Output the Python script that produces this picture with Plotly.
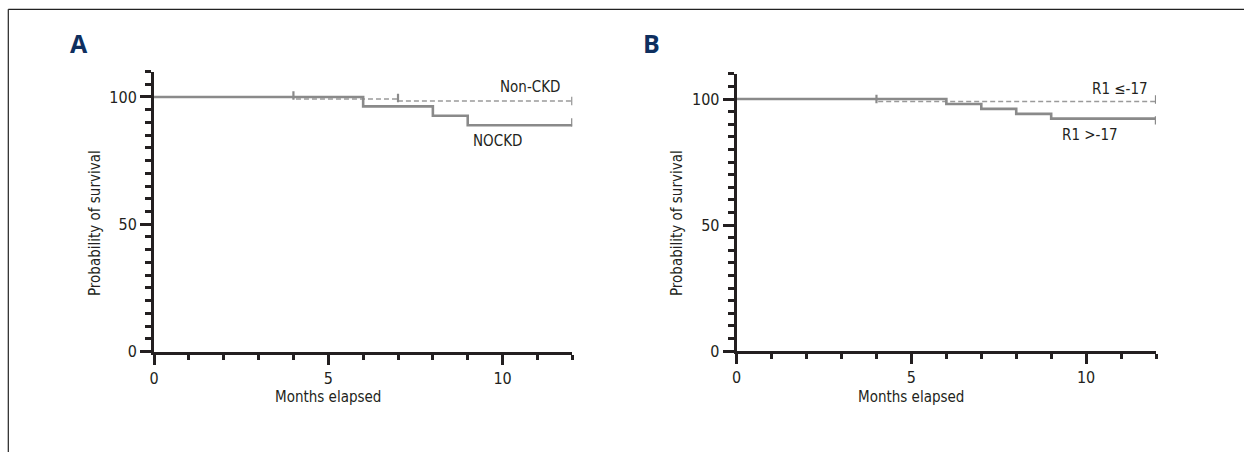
import plotly.graph_objects as go

# ---------------- data ----------------
# Panel A
a_nonckd_t = [0, 4, 7, 12]
a_nonckd_s = [100, 99.2, 98.4, 98.4]
a_nonckd_cens_t = [4, 7, 12]
a_nonckd_cens_s = [100.6, 99.6, 98.4]

a_nockd_t = [0, 6, 8, 9, 12]
a_nockd_s = [100, 96.3, 92.6, 88.9, 88.9]
a_nockd_cens_t = [12]
a_nockd_cens_s = [90.0]

# Panel B
b_low_t = [0, 4, 12]
b_low_s = [100, 99.0, 99.0]
b_low_cens_t = [4, 12]
b_low_cens_s = [100.0, 99.8]

b_high_t = [0, 6, 7, 8, 9, 12]
b_high_s = [100, 98.0, 96.1, 94.1, 92.2, 92.2]
b_high_cens_t = [12]
b_high_cens_s = [91.5]

x_ticks = [0, 5, 10]
y_ticks = [0, 50, 100]

W, H = 1244, 452
def px(x):
    return x / W
def py(y):
    return 1 - y / H

FONT = "DejaVu Sans Condensed, Liberation Sans Narrow, Arial Narrow, sans-serif"
FS = 15
TXT = "#231f20"
AX = "#231f20"
SOLID = "#8a8a8a"
DASH = "#9a9a9a"

fig = go.Figure()

def add_panel(xa, ya, dash_t, dash_s, dct, dcs, sol_t, sol_s, sct, scs):
    fig.add_trace(go.Scatter(x=dash_t, y=dash_s, mode="lines", line_shape="hv",
                             line=dict(color=DASH, width=1.6, dash="5px,3px"),
                             xaxis=xa, yaxis=ya, showlegend=False, hoverinfo="skip"))
    fig.add_trace(go.Scatter(x=sol_t, y=sol_s, mode="lines", line_shape="hv",
                             line=dict(color=SOLID, width=2.6),
                             xaxis=xa, yaxis=ya, showlegend=False, hoverinfo="skip"))
    fig.add_trace(go.Scatter(x=dct, y=dcs, mode="markers",
                             marker=dict(symbol="line-ns", size=6,
                                         line=dict(color=SOLID, width=2.2)),
                             xaxis=xa, yaxis=ya, showlegend=False, hoverinfo="skip"))
    fig.add_trace(go.Scatter(x=sct, y=scs, mode="markers",
                             marker=dict(symbol="line-ns", size=6,
                                         line=dict(color=SOLID, width=2.4)),
                             xaxis=xa, yaxis=ya, showlegend=False, hoverinfo="skip"))

add_panel("x", "y", a_nonckd_t, a_nonckd_s, a_nonckd_cens_t, a_nonckd_cens_s,
          a_nockd_t, a_nockd_s, a_nockd_cens_t, a_nockd_cens_s)
add_panel("x2", "y2", b_low_t, b_low_s, b_low_cens_t, b_low_cens_s,
          b_high_t, b_high_s, b_high_cens_t, b_high_cens_s)

def xaxis(domain, anchor):
    return dict(domain=domain, anchor=anchor, range=[0, 12], showgrid=False, zeroline=False,
                showline=True, linewidth=3, linecolor=AX, automargin=False,
                tickmode="array", tickvals=x_ticks, ticks="outside", ticklen=10,
                tickwidth=3, tickcolor=AX,
                minor=dict(ticks="outside", dtick=1, tick0=0, ticklen=5, tickwidth=2.5,
                           tickcolor=AX, showgrid=False),
                tickfont=dict(family=FONT, size=FS + 1, color=TXT), fixedrange=True)

def yaxis(domain, anchor):
    return dict(domain=domain, anchor=anchor, range=[0, 110], showgrid=False, zeroline=False,
                showline=True, linewidth=3, linecolor=AX, automargin=False,
                tickmode="array", tickvals=y_ticks, ticks="outside", ticklen=11,
                tickwidth=3, tickcolor=AX,
                minor=dict(ticks="outside", dtick=5, tick0=0, ticklen=6, tickwidth=2.5,
                           tickcolor=AX, showgrid=False),
                tickfont=dict(family=FONT, size=FS + 1, color=TXT), fixedrange=True)

fig.update_layout(
    width=W, height=H, margin=dict(l=0, r=0, t=0, b=0, pad=0),
    paper_bgcolor="white", plot_bgcolor="white",
    xaxis=xaxis([px(154), px(572.3)], "y"),
    yaxis=yaxis([py(351.5), py(71.5)], "x"),
    xaxis2=xaxis([px(736.7), px(1156)], "y2"),
    yaxis2=yaxis([py(351), py(73.8)], "x2"),
)

ann = []
# panel letters
for letter, x in (("A", 79), ("B", 651)):
    ann.append(dict(text=letter, x=px(x), y=py(43), xref="paper", yref="paper",
                    xanchor="center", yanchor="middle", showarrow=False,
                    font=dict(family="Open Sans, Noto Sans, sans-serif", size=25,
                              color="#0e2f5f", weight="bold")))
# axis titles
for xr in ("x", "x2"):
    ann.append(dict(text="Months elapsed", x=5, y=py(397), xref=xr, yref="paper",
                    xanchor="center", yanchor="middle", showarrow=False,
                    font=dict(family=FONT, size=FS, color=TXT)))
for xx in (95, 677):
    ann.append(dict(text="Probability of survival", x=px(xx), y=py(223), xref="paper",
                    yref="paper", xanchor="center", yanchor="middle", textangle=-90,
                    showarrow=False, font=dict(family=FONT, size=FS, color=TXT)))
# curve labels
ann.append(dict(text="Non-CKD", x=11.7, y=104.0, xref="x", yref="y", xanchor="right",
                yanchor="middle", showarrow=False, font=dict(family=FONT, size=FS, color=TXT)))
ann.append(dict(text="NOCKD", x=9.84, y=82.7, xref="x", yref="y", xanchor="center",
                yanchor="middle", showarrow=False, font=dict(family=FONT, size=FS, color=TXT)))
ann.append(dict(text="R1 ≤-17", x=11.83, y=104.0, xref="x2", yref="y2", xanchor="right",
                yanchor="middle", showarrow=False, font=dict(family=FONT, size=FS, color=TXT)))
ann.append(dict(text="R1 >-17", x=10.11, y=85.7, xref="x2", yref="y2", xanchor="center",
                yanchor="middle", showarrow=False, font=dict(family=FONT, size=FS, color=TXT)))
fig.update_layout(annotations=ann)

# outer frame (top and left edge)
fig.add_shape(type="line", xref="paper", yref="paper", x0=px(8.3), x1=1, y0=py(9.3), y1=py(9.3),
              line=dict(color="#222222", width=1.2))
fig.add_shape(type="line", xref="paper", yref="paper", x0=px(8.3), x1=px(8.3), y0=py(9.3), y1=0,
              line=dict(color="#222222", width=1.2))

fig.write_html("out.html", config={"displayModeBar": False},
               post_script="document.body.style.margin='0';document.body.style.overflow='hidden';")
